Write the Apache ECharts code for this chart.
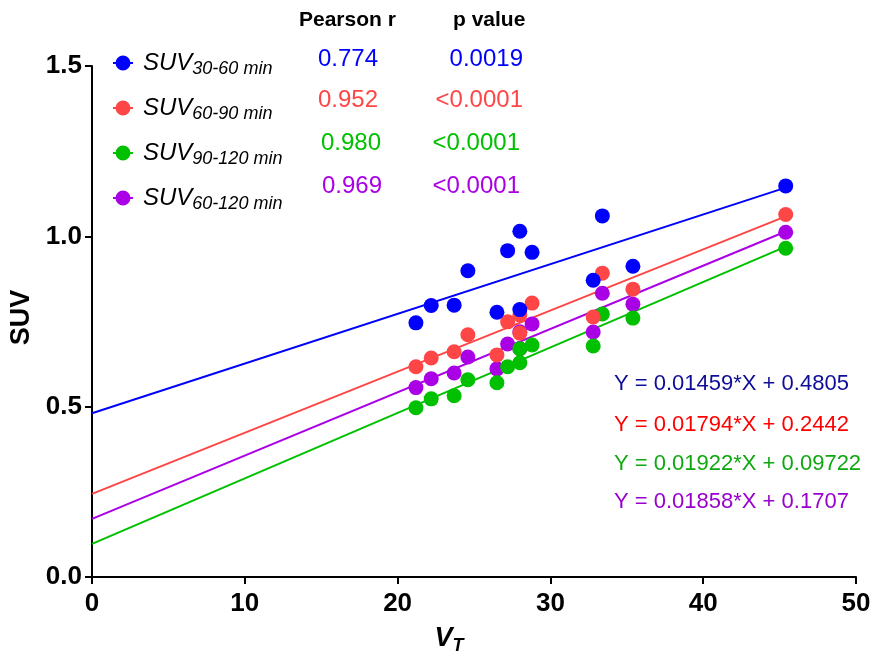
<!DOCTYPE html>
<html lang="en">
<head>
    <meta charset="UTF-8">
    <title>SUV vs VT</title>
    <style>
        html, body { margin: 0; padding: 0; background: #fff; }
        #chart { width: 873px; height: 659px; }
    </style>
</head>
<body>
    <div id="chart"></div>
    <script src="https://cdn.jsdelivr.net/npm/echarts@6/dist/echarts.min.js"></script>
    <script>
        // VT per subject (shared by all four SUV windows)
        var vt = [21.2, 22.2, 23.7, 24.6, 26.5, 27.2, 28.0, 28.0, 28.8, 32.8, 33.4, 35.4, 45.4];
        var suv3060 = [0.746, 0.797, 0.798, 0.899, 0.777, 0.958, 1.015, 0.785, 0.953, 0.871, 1.060, 0.912, 1.148];
        var suv6090 = [0.617, 0.643, 0.661, 0.711, 0.652, 0.749, 0.769, 0.716, 0.804, 0.763, 0.892, 0.845, 1.064];
        var suv90120 = [0.497, 0.523, 0.532, 0.579, 0.570, 0.617, 0.670, 0.629, 0.681, 0.678, 0.772, 0.760, 0.965];
        var suv60120 = [0.556, 0.582, 0.599, 0.646, 0.611, 0.684, 0.720, 0.670, 0.743, 0.719, 0.833, 0.801, 1.012];

        var names = ['30-60 min', '60-90 min', '90-120 min', '60-120 min'];
        var pearsonR = ['0.774', '0.952', '0.980', '0.969'];
        var pValues = ['0.0019', '<0.0001', '<0.0001', '<0.0001'];
        var slopes = [0.01459, 0.01794, 0.01922, 0.01858];
        var intercepts = [0.4805, 0.2442, 0.09722, 0.1707];
        var eqLabels = ['Y = 0.01459*X + 0.4805', 'Y = 0.01794*X + 0.2442',
            'Y = 0.01922*X + 0.09722', 'Y = 0.01858*X + 0.1707'];
        var xTicks = [0, 10, 20, 30, 40, 50];
        var yTicks = [0, 0.5, 1.0, 1.5];

        var allSuv = [suv3060, suv6090, suv90120, suv60120];
        var dotColors = ['#0000ff', '#ff4646', '#00c000', '#aa00e6'];
        var eqColors = ['#0d0d99', '#ff0000', '#10a810', '#9900cc'];
        // draw order: purple at the bottom, blue on top
        var drawOrder = [3, 2, 1, 0];
        var FONT = 'Liberation Sans, Arial, sans-serif';
        // dot with short stubs on both sides, like the Prism legend
        var legendIcon = 'path://M0,6.5 L3,6.5 L3,8.5 L0,8.5 Z M17,6.5 L20,6.5 L20,8.5 L17,8.5 Z ' +
            'M2.5,7.5 A7.5,7.5 0 1,1 17.5,7.5 A7.5,7.5 0 1,1 2.5,7.5 Z';

        var xMax = Math.max.apply(null, vt);
        var series = [];

        // fit lines first so the dots sit on top
        drawOrder.forEach(function (i) {
            series.push({
                type: 'line',
                name: 'fit ' + names[i],
                data: [[0, intercepts[i]], [xMax, intercepts[i] + slopes[i] * xMax]],
                showSymbol: false,
                silent: true,
                z: 2,
                lineStyle: { color: dotColors[i], width: 2 }
            });
        });
        drawOrder.forEach(function (i) {
            series.push({
                type: 'scatter',
                name: names[i],
                data: vt.map(function (x, k) { return [x, allSuv[i][k]]; }),
                symbolSize: 15,
                z: 3,
                itemStyle: { color: dotColors[i], opacity: 1 }
            });
        });

        var graphics = [
            { type: 'text', x: 299, y: 20, style: { text: 'Pearson r', font: 'bold 21px ' + FONT, fill: '#000', verticalAlign: 'middle' } },
            { type: 'text', x: 453, y: 20, style: { text: 'p value', font: 'bold 21px ' + FONT, fill: '#000', verticalAlign: 'middle' } }
        ];
        var rowY = [59, 100, 143, 186];
        var pearX = [348, 348, 351, 352];
        var pRight = [523, 523, 520, 520];
        var eqY = [384, 425, 464, 502];
        for (var i = 0; i < 4; i++) {
            graphics.push({
                type: 'text', x: pearX[i], y: rowY[i],
                style: { text: pearsonR[i], font: '24px ' + FONT, fill: dotColors[i], align: 'center', verticalAlign: 'middle' }
            });
            graphics.push({
                type: 'text', x: pRight[i], y: rowY[i],
                style: { text: pValues[i], font: '24px ' + FONT, fill: dotColors[i], align: 'right', verticalAlign: 'middle' }
            });
            graphics.push({
                type: 'text', x: 614, y: eqY[i],
                style: { text: eqLabels[i], font: '22px ' + FONT, fill: eqColors[i], align: 'left', verticalAlign: 'middle' }
            });
        }

        var option = {
            animation: false,
            backgroundColor: '#fff',
            grid: { left: 92, right: 17, top: 66, bottom: 82, outerBoundsMode: 'none', containLabel: false },
            legend: {
                data: names,
                orient: 'vertical',
                left: 108,
                top: 43,
                itemWidth: 20,
                itemHeight: 15,
                itemGap: 15,
                icon: legendIcon,
                selectedMode: false,
                formatter: function (n) { return '{a|SUV}{b|' + n + '}'; },
                textStyle: {
                    rich: {
                        a: { fontFamily: FONT, fontStyle: 'italic', fontSize: 24, color: '#000', lineHeight: 28, padding: [0, 0, 0, 5] },
                        b: { fontFamily: FONT, fontStyle: 'italic', fontSize: 18, color: '#000', lineHeight: 28, padding: [12, 0, 0, 0] }
                    }
                }
            },
            xAxis: {
                type: 'value',
                min: xTicks[0],
                max: xTicks[xTicks.length - 1],
                interval: 10,
                name: '{v|V}{t|T}',
                nameLocation: 'middle',
                nameGap: 46,
                nameTextStyle: {
                    padding: [0, 50, 0, 0],
                    rich: {
                        v: { fontFamily: FONT, fontStyle: 'italic', fontWeight: 'bold', fontSize: 27, color: '#000' },
                        t: { fontFamily: FONT, fontStyle: 'italic', fontWeight: 'bold', fontSize: 18, color: '#000', padding: [14, 0, 0, 0] }
                    }
                },
                axisLine: { lineStyle: { color: '#000', width: 2 } },
                axisTick: { length: 7, lineStyle: { color: '#000', width: 2 } },
                axisLabel: { fontFamily: FONT, fontWeight: 'bold', fontSize: 26, color: '#000', margin: 14 },
                splitLine: { show: false }
            },
            yAxis: {
                type: 'value',
                min: yTicks[0],
                max: yTicks[yTicks.length - 1],
                interval: 0.5,
                name: 'SUV',
                nameLocation: 'middle',
                nameGap: 55,
                nameRotate: 90,
                nameTextStyle: { fontFamily: FONT, fontWeight: 'bold', fontSize: 27, color: '#000', padding: [0, 0, 0, 8] },
                axisLine: { show: true, lineStyle: { color: '#000', width: 2 } },
                axisTick: { show: true, length: 7, lineStyle: { color: '#000', width: 2 } },
                axisLabel: {
                    fontFamily: FONT, fontWeight: 'bold', fontSize: 26, color: '#000', margin: 10,
                    formatter: function (v) { return v.toFixed(1); }
                },
                splitLine: { show: false }
            },
            graphic: graphics,
            series: series
        };

        var chart = echarts.init(document.getElementById('chart'));
        chart.setOption(option);
    </script>
</body>
</html>
